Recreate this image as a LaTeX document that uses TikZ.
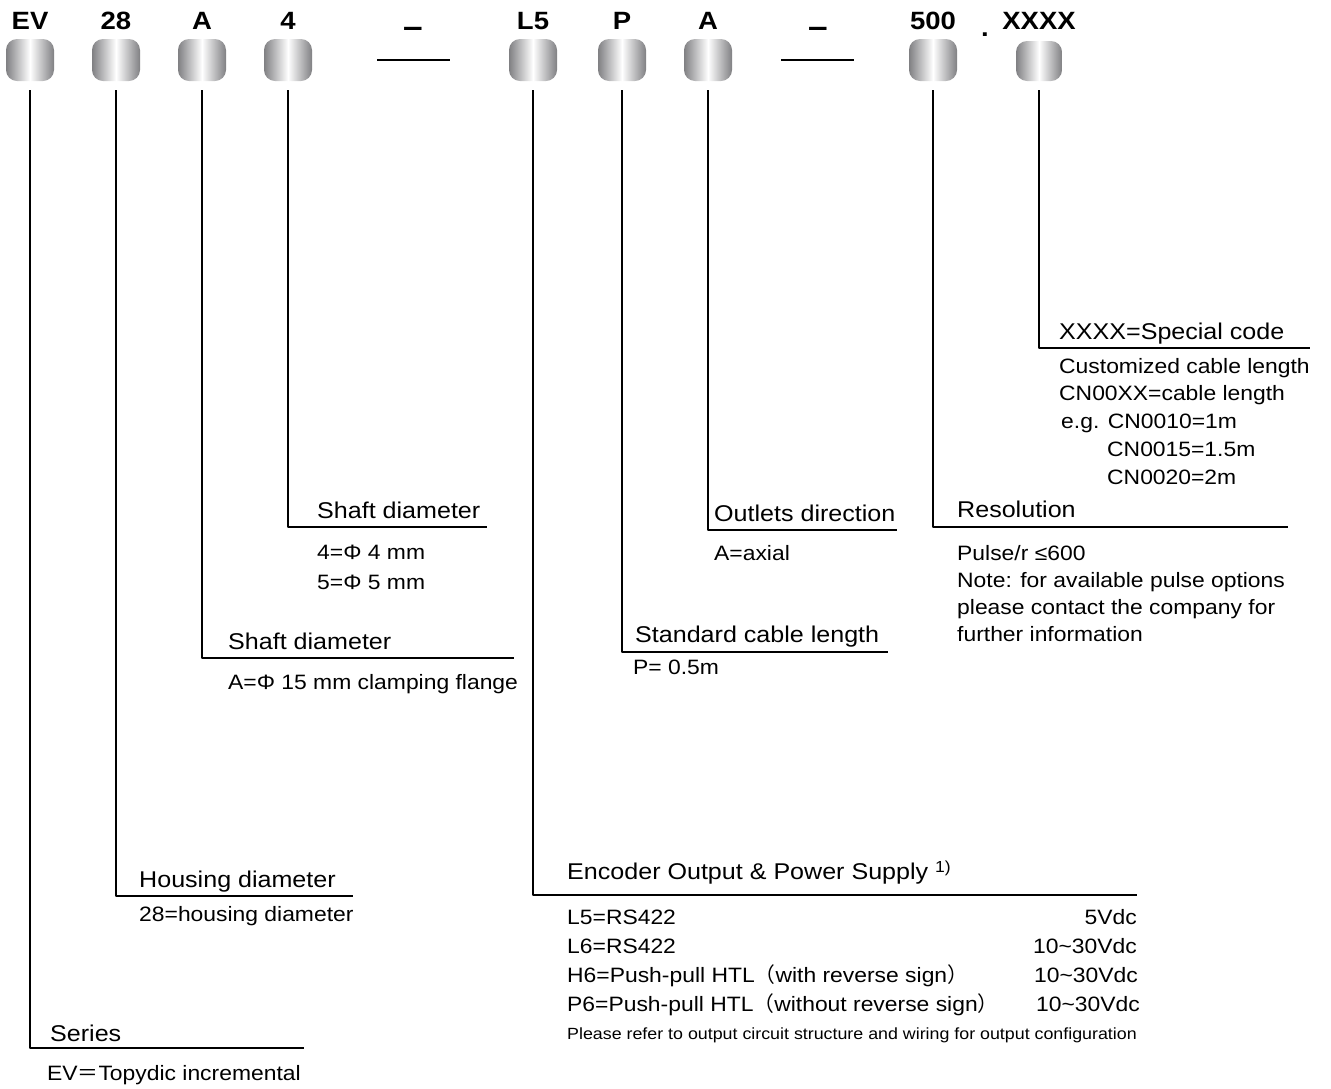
\documentclass[tikz,border=0pt]{standalone}
\usepackage{fontspec}
\setmainfont[FakeStretch=1.1]{Liberation Sans}
\newfontfamily\cjk{Noto Sans CJK SC}
\usetikzlibrary{positioning}
\definecolor{metal}{RGB}{128,128,131}
\tikzset{
  codebox/.style={rounded corners=11pt, minimum width=48pt, minimum height=42pt, inner sep=0pt,
    left color=metal, right color=metal, middle color=white},
  code/.style={font=\bfseries\fontsize{25}{25}\selectfont, inner sep=0pt, anchor=base},
  head/.style={font=\fontsize{22.8}{24}\selectfont, inner sep=0pt, anchor=base west},
  sub/.style={font=\fontsize{20.8}{22}\selectfont, inner sep=0pt, anchor=base west},
  rule/.style={line width=1.6pt},
}
\begin{document}
\begin{tikzpicture}[x=1pt, y=-1pt, line join=round]
  \useasboundingbox (0,0) rectangle (1331,1088);
  % order code boxes
  \foreach \n/\x in {EV/30, 28/116, A/202, 4/288, L5/533, P/622, A2/708, 500/933}
    \node[codebox] (b\n) at (\x,60) {};
  \node[codebox, minimum width=46pt, minimum height=40pt] (bX) at (1039,61) {};
  \node[code, above=9pt of bEV] (tEV) {EV};
  \node[code, above=9pt of b28] (t28) {28};
  \node[code, above=9pt of bA] (tA) {A};
  \node[code, above=9pt of b4] (t4) {4};
  \node[code, above=9pt of bL5] (tL5) {L5};
  \node[code, above=9pt of bP] (tP) {P};
  \node[code, above=9pt of bA2] (tA2) {A};
  \node[code, above=9pt of b500] (t500) {500};
  \node[code, above=11pt of bX] (tX) {XXXX};
  % separators
  \node[code, font=\bfseries\fontsize{32}{32}\selectfont] (dash1) at (413,37) {–};
  \node[code, font=\bfseries\fontsize{32}{32}\selectfont] (dash2) at (818,37) {–};
  \node[code] (dot) at (985,36) {.};
  \draw[rule] (377,60) -- (450,60);
  \draw[rule] (781,60) -- (854,60);
  % leader ends
  \coordinate (eEV) at (304,1048);
  \coordinate (e28) at (353,896);
  \coordinate (eA) at (514,658);
  \coordinate (e4) at (487,527);
  \coordinate (eL5) at (1137,895);
  \coordinate (eP) at (888,652);
  \coordinate (eA2) at (897,530);
  \coordinate (e500) at (1288,527);
  \coordinate (eX) at (1310,348);
  \foreach \n in {EV,28,A,4,L5,P,A2,500,X}
    \draw[rule] ([yshift=-9pt]b\n.south) |- (e\n);
  % series
  \node[head] (hEV) at (50,1041) {Series};
  \node[sub] (sEV) at (47,1080) {EV{\cjk ＝}Topydic incremental};
  % housing
  \node[head] (h28) at (139,887) {Housing diameter};
  \node[sub] (s28) at (139,921) {28=housing diameter};
  % flange
  \node[head] (hA) at (228,649) {Shaft diameter};
  \node[sub] (sA) at (228,689) {A=Φ 15 mm clamping flange};
  % shaft
  \node[head] (h4) at (317,518) {Shaft diameter};
  \foreach \t [count=\i] in {4=Φ 4 mm, 5=Φ 5 mm}
    \node[sub] (s4\i) at (317,{559+30*(\i-1)}) {\t};
  % output
  \node[head] (hL5) at (567,879) {Encoder Output \& Power Supply};
  \node[inner sep=0pt, anchor=base west, font=\fontsize{16}{16}\selectfont] (fn) at (935,872) {1)};
  \foreach \t/\v/\r [count=\i] in {L5=RS422/5Vdc/1137, L6=RS422/10\textasciitilde30Vdc/1137,
      H6=Push-pull HTL{\cjk（}with reverse sign{\cjk）}/10\textasciitilde30Vdc/1138,
      P6=Push-pull HTL{\cjk（}without reverse sign{\cjk）}/10\textasciitilde30Vdc/1140}
  {
    \node[sub] (sL5\i) at (567,{924+29.3*(\i-1)}) {\t};
    \node[sub, anchor=base east] (vL5\i) at (\r,{924+29.3*(\i-1)}) {\v};
  }
  \node[inner sep=0pt, anchor=base west, font=\fontsize{16.2}{17}\selectfont] (nL5) at (567,1039)
    {Please refer to output circuit structure and wiring for output configuration};
  % cable
  \node[head] (hP) at (635,642) {Standard cable length};
  \node[sub] (sP) at (633,674) {P= 0.5m};
  % outlet
  \node[head] (hA2) at (714,521) {Outlets direction};
  \node[sub] (sA2) at (714,560) {A=axial};
  % resolution
  \node[head] (h500) at (957,517) {Resolution};
  \foreach \t [count=\i] in {Pulse/r ≤600, Note: for available pulse options,
      please contact the company for, further information}
    \node[sub] (s500\i) at (957,{560+27*(\i-1)}) {\t};
  % special code
  \node[head] (hX) at (1059,339) {XXXX=Special code};
  \node[sub] (sX1) at (1059,373) {Customized cable length};
  \node[sub] (sX2) at (1059,400) {CN00XX=cable length};
  \node[sub] (sX3) at (1061,428) {e.g. CN0010=1m};
  \node[sub] (sX4) at (1107,456) {CN0015=1.5m};
  \node[sub] (sX5) at (1107,484) {CN0020=2m};
\end{tikzpicture}
\end{document}
